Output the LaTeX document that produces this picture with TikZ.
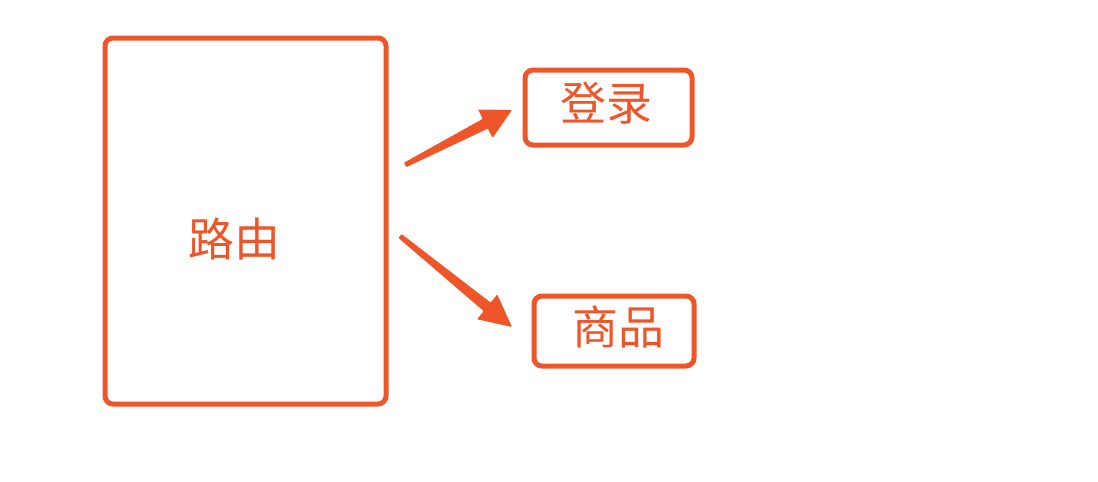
\documentclass[tikz,border=0pt]{standalone}
\usepackage{fontspec}
\newfontfamily\cjk{Noto Sans CJK SC}
\usetikzlibrary{calc}
\definecolor{routeorange}{RGB}{238,85,40}
\tikzset{
  box/.style={draw=routeorange, line width=5pt, rounded corners=8pt, inner sep=0pt},
  boxtext/.style={text=routeorange, font=\cjk\fontsize{46}{50}\selectfont, inner sep=0pt},
}
\begin{document}
\begin{tikzpicture}[x=1pt, y=-1pt]
    \useasboundingbox (0, 0) rectangle (1098, 482);
    \node[box, minimum width=281pt, minimum height=366pt] (route) at (245.5, 221) {};
    \node[boxtext] (routetext) at (234.5, 239) {路由};
    \node[box, minimum width=167pt, minimum height=75pt] (login) at (608.5, 107.5) {};
    \node[boxtext] (logintext) at (606, 103) {登录};
    \node[box, minimum width=160pt, minimum height=70pt] (goods) at (614, 331) {};
    \node[boxtext] (goodstext) at (618, 327) {商品};
    % arrow ends
    \coordinate (a1) at (405, 165);
    \coordinate (t1) at (512, 110);
    \coordinate (a2) at (400, 236);
    \coordinate (t2) at (512, 327);
    \coordinate (h1) at ($(t1)!30pt!(a1)$);
    \coordinate (h2) at ($(t2)!32pt!(a2)$);
    \fill[routeorange, rounded corners=1pt] ($(a1)!2.5pt!90:(t1)$) -- ($(h1)!5.5pt!90:(t1)$)
      -- ($(h1)!16pt!90:(t1)$) -- (t1) -- ($(h1)!16pt!-90:(t1)$)
      -- ($(h1)!5.5pt!-90:(t1)$) -- ($(a1)!2.5pt!-90:(t1)$) -- cycle;
    \fill[routeorange, rounded corners=1pt] ($(a2)!2.5pt!90:(t2)$) -- ($(h2)!5.5pt!90:(t2)$)
      -- ($(h2)!16pt!90:(t2)$) -- (t2) -- ($(h2)!16pt!-90:(t2)$)
      -- ($(h2)!5.5pt!-90:(t2)$) -- ($(a2)!2.5pt!-90:(t2)$) -- cycle;
  \end{tikzpicture}
\end{document}
